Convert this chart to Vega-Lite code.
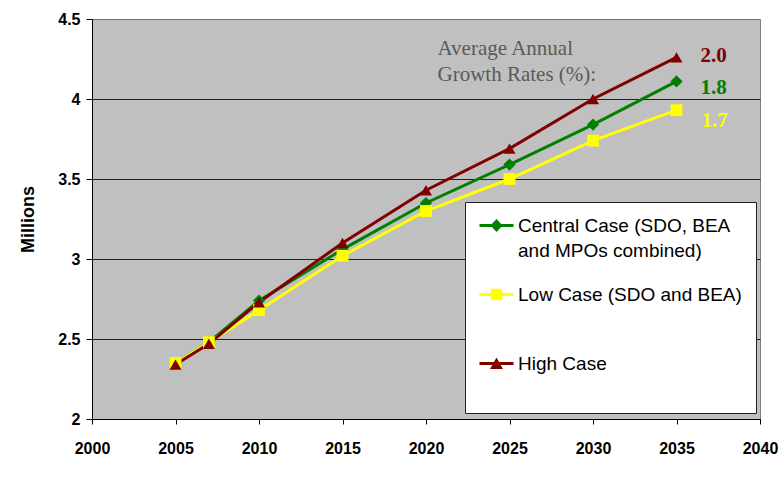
{
  "$schema": "https://vega.github.io/schema/vega-lite/v6.json",
  "width": 668,
  "height": 400,
  "autosize": {"type": "none"},
  "padding": {"left": 92, "top": 19, "right": 19, "bottom": 58},
  "background": "white",
  "config": {
    "view": {"fill": "#C0C0C0", "stroke": "#808080", "strokeWidth": 1},
    "font": "Liberation Sans"
  },
  "datasets": {
    "series": [
      {"case": "Central Case (SDO, BEA and MPOs combined)", "year": 2005, "value": 2.35},
      {"case": "Central Case (SDO, BEA and MPOs combined)", "year": 2007, "value": 2.48},
      {"case": "Central Case (SDO, BEA and MPOs combined)", "year": 2010, "value": 2.74},
      {"case": "Central Case (SDO, BEA and MPOs combined)", "year": 2015, "value": 3.06},
      {"case": "Central Case (SDO, BEA and MPOs combined)", "year": 2020, "value": 3.35},
      {"case": "Central Case (SDO, BEA and MPOs combined)", "year": 2025, "value": 3.59},
      {"case": "Central Case (SDO, BEA and MPOs combined)", "year": 2030, "value": 3.84},
      {"case": "Central Case (SDO, BEA and MPOs combined)", "year": 2035, "value": 4.11},
      {"case": "Low Case (SDO and BEA)", "year": 2005, "value": 2.35},
      {"case": "Low Case (SDO and BEA)", "year": 2007, "value": 2.48},
      {"case": "Low Case (SDO and BEA)", "year": 2010, "value": 2.68},
      {"case": "Low Case (SDO and BEA)", "year": 2015, "value": 3.02},
      {"case": "Low Case (SDO and BEA)", "year": 2020, "value": 3.30},
      {"case": "Low Case (SDO and BEA)", "year": 2025, "value": 3.50},
      {"case": "Low Case (SDO and BEA)", "year": 2030, "value": 3.74},
      {"case": "Low Case (SDO and BEA)", "year": 2035, "value": 3.93},
      {"case": "High Case", "year": 2005, "value": 2.34},
      {"case": "High Case", "year": 2007, "value": 2.47},
      {"case": "High Case", "year": 2010, "value": 2.73},
      {"case": "High Case", "year": 2015, "value": 3.10},
      {"case": "High Case", "year": 2020, "value": 3.43},
      {"case": "High Case", "year": 2025, "value": 3.69},
      {"case": "High Case", "year": 2030, "value": 4.00},
      {"case": "High Case", "year": 2035, "value": 4.26}
    ],
    "rates": [
      {"case": "Central Case (SDO, BEA and MPOs combined)", "year": 2035, "value": 4.11, "rate": "1.8"},
      {"case": "Low Case (SDO and BEA)", "year": 2035, "value": 3.93, "rate": "1.7"},
      {"case": "High Case", "year": 2035, "value": 4.26, "rate": "2.0"}
    ]
  },
  "encoding": {
    "x": {
      "field": "year",
      "type": "quantitative",
      "scale": {"domain": [2000, 2040], "nice": false, "zero": false},
      "axis": {
        "title": null,
        "values": [2000, 2005, 2010, 2015, 2020, 2025, 2030, 2035, 2040],
        "format": "d",
        "grid": false,
        "labelFont": "Liberation Sans",
        "labelFontSize": 16,
        "labelFontWeight": "bold",
        "labelColor": "black",
        "labelPadding": 16,
        "tickSize": 5,
        "tickColor": "black",
        "domainColor": "black",
        "labelFlush": false
      }
    },
    "y": {
      "field": "value",
      "type": "quantitative",
      "scale": {"domain": [2, 4.5], "nice": false, "zero": false},
      "axis": {
        "title": "Millions",
        "titleFont": "Liberation Sans",
        "titleFontSize": 18,
        "titleFontWeight": "bold",
        "titleColor": "black",
        "titlePadding": 20,
        "values": [2, 2.5, 3, 3.5, 4, 4.5],
        "format": ".1~f",
        "labelFont": "Liberation Sans",
        "labelFontSize": 16,
        "labelFontWeight": "bold",
        "labelColor": "black",
        "labelPadding": 6,
        "tickSize": 6,
        "tickColor": "black",
        "domainColor": "black",
        "grid": true,
        "gridColor": {"condition": {"test": "datum.value === 4.5", "value": "#707070"}, "value": "#202020"},
        "gridWidth": 1,
        "gridOpacity": 1,
        "labelFlush": false
      }
    }
  },
  "layer": [
    {
      "data": {"name": "series"},
      "mark": {"type": "line", "strokeWidth": 3},
      "encoding": {
        "color": {
          "field": "case",
          "type": "nominal",
          "scale": {
            "domain": ["Central Case (SDO, BEA and MPOs combined)", "Low Case (SDO and BEA)", "High Case"],
            "range": ["#008000", "#FFFF00", "#800000"]
          },
          "legend": {
            "title": null,
            "orient": "none",
            "legendX": 373,
            "legendY": 183,
            "padding": 14,
            "fillColor": "white",
            "strokeColor": "#202020",
            "rowPadding": 24,
            "symbolSize": 324,
            "symbolOffset": 8,
            "symbolStrokeWidth": 0,
            "labelFont": "Liberation Sans",
            "labelFontSize": 19,
            "labelColor": "black",
            "labelLimit": 500,
            "labelOffset": 12,
            "labelExpr": "datum.label === 'Central Case (SDO, BEA and MPOs combined)' ? ['Central Case (SDO, BEA', 'and MPOs combined)'] : [datum.label, ' ']",
            "encode": {
              "symbols": {
                "update": {
                  "shape": {"signal": "datum.value === 'High Case' ? 'M-1.889,-0.167H1.889V0.167H-1.889Z M0,-0.67L0.72,0.61H-0.72Z' : datum.value === 'Low Case (SDO and BEA)' ? 'M-1.889,-0.167H1.889V0.167H-1.889Z M-0.63,-0.63H0.63V0.63H-0.63Z' : 'M-1.889,-0.167H1.889V0.167H-1.889Z M0,-0.72L0.667,0L0,0.72L-0.667,0Z'"},
                  "fillOpacity": {"value": 1},
                  "strokeWidth": {"value": 0}
                }
              },
              "labels": {
                "update": {"lineHeight": {"value": 25}}
              }
            }
          }
        }
      }
    },
    {
      "data": {"name": "series"},
      "mark": {"type": "point", "filled": true, "opacity": 1, "strokeWidth": 0},
      "encoding": {
        "color": {"field": "case", "type": "nominal"},
        "shape": {
          "field": "case",
          "type": "nominal",
          "scale": {"range": ["diamond", "triangle-up", "square"]},
          "legend": null
        },
        "size": {
          "field": "case",
          "type": "nominal",
          "scale": {"range": [150, 140, 105]},
          "legend": null
        }
      }
    },
    {
      "data": {"name": "rates"},
      "transform": [{"filter": "datum.case === 'High Case'"}],
      "mark": {"type": "text", "font": "Liberation Serif", "fontSize": 21, "fontWeight": "bold", "align": "left", "baseline": "middle", "dx": 24, "dy": -1},
      "encoding": {
        "text": {"field": "rate"},
        "color": {"field": "case", "type": "nominal"}
      }
    },
    {
      "data": {"name": "rates"},
      "transform": [{"filter": "datum.case === 'Central Case (SDO, BEA and MPOs combined)'"}],
      "mark": {"type": "text", "font": "Liberation Serif", "fontSize": 21, "fontWeight": "bold", "align": "left", "baseline": "middle", "dx": 24, "dy": 7},
      "encoding": {
        "text": {"field": "rate"},
        "color": {"field": "case", "type": "nominal"}
      }
    },
    {
      "data": {"name": "rates"},
      "transform": [{"filter": "datum.case === 'Low Case (SDO and BEA)'"}],
      "mark": {"type": "text", "font": "Liberation Serif", "fontSize": 21, "fontWeight": "bold", "align": "left", "baseline": "middle", "dx": 25, "dy": 11},
      "encoding": {
        "text": {"field": "rate"},
        "color": {"field": "case", "type": "nominal"}
      }
    },
    {
      "data": {"name": "rates"},
      "transform": [{"filter": "datum.case === 'High Case'"}],
      "mark": {"type": "text", "font": "Liberation Serif", "fontSize": 21, "color": "#5a5a5a", "align": "left", "baseline": "alphabetic", "dx": -239, "dy": -2},
      "encoding": {
        "text": {"value": "Average Annual"}
      }
    },
    {
      "data": {"name": "rates"},
      "transform": [{"filter": "datum.case === 'High Case'"}],
      "mark": {"type": "text", "font": "Liberation Serif", "fontSize": 21, "color": "#5a5a5a", "align": "left", "baseline": "alphabetic", "dx": -239, "dy": 24},
      "encoding": {
        "text": {"value": "Growth Rates (%):"}
      }
    }
  ]
}
